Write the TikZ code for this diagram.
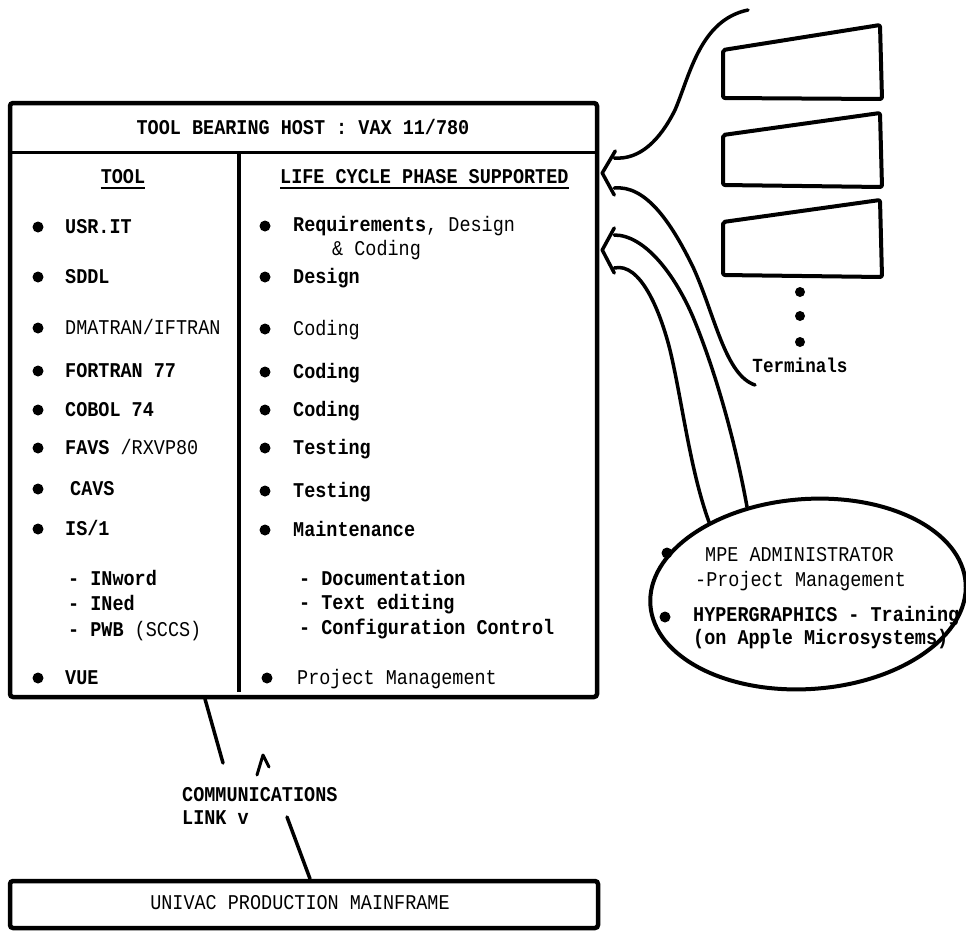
\documentclass[tikz,border=0pt]{standalone}
\usepackage{fontspec}
\newfontfamily\tw[FakeStretch=0.88]{Liberation Mono}
\usetikzlibrary{shapes.geometric}
\tikzset{
  txt/.style={font=\tw\fontsize{21}{25}\selectfont, inner sep=0pt, anchor=base west},
  ctxt/.style={txt, anchor=base},
  bul/.style={circle, fill=black, inner sep=0pt, minimum size=11pt},
  frame/.style={draw, line width=4.5pt, rounded corners=3pt, inner sep=0pt},
  rule/.style={line width=3pt},
  wire/.style={line width=3.5pt, line cap=round, line join=round},
  term/.style={line width=4pt, rounded corners=2pt, line join=round},
}
\begin{document}
\begin{tikzpicture}[x=1pt,y=-1pt]
\useasboundingbox (0,0) rectangle (966,930);
\fill[white] (0,0) rectangle (966,930);

% host box
\node[frame, minimum width=587pt, minimum height=594pt] (host) at (303.5,400) {};
\coordinate (hd) at (0,152);
\coordinate (cd) at (239,0);
\coordinate (cdb) at (239,692);
\draw[rule] (host.west |- hd) -- (host.east |- hd);
\draw[line width=3.5pt] (cd |- hd) -- (cdb);

\node[ctxt] (title) at (303,134) {\textbf{TOOL BEARING HOST : VAX 11/780}};
\node[ctxt] (toolh) at (123,183) {\textbf{TOOL}};
\node[txt] (lifeh) at (280,183) {\textbf{LIFE CYCLE PHASE SUPPORTED}};
\draw[line width=1.8pt] ([yshift=-5pt]toolh.base west) -- ([yshift=-5pt]toolh.base east);
\draw[line width=1.8pt] ([yshift=-5pt]lifeh.base west) -- ([yshift=-5pt]lifeh.base east);

% left column
\foreach \y [count=\i] in {227,277,328,371,410,448,489,529,678}
  \node[bul] (lb\i) at (38,\y) {};
\node[txt] (l1) at (65,233) {\textbf{USR.IT}};
\node[txt] (l2) at (65,283) {\textbf{SDDL}};
\node[txt] (l3) at (65,334) {DMATRAN/IFTRAN};
\node[txt] (l4) at (65,377) {\textbf{FORTRAN 77}};
\node[txt] (l5) at (65,416) {\textbf{COBOL 74}};
\node[txt] (l6) at (65,454) {\textbf{FAVS} /RXVP80};
\node[txt] (l7) at (70,495) {\textbf{CAVS}};
\node[txt] (l8) at (65,535) {\textbf{IS/1}};
\node[txt] (l9) at (68,585) {\textbf{-  INword}};
\node[txt] (l10) at (68,610) {\textbf{-  INed}};
\node[txt] (l11) at (68,636) {\textbf{-  PWB} (SCCS)};
\node[txt] (l12) at (65,684) {\textbf{VUE}};

% right column
\foreach \y [count=\i] in {226,277,329,372,410,448,491,530}
  \node[bul] (rb\i) at (265,\y) {};
\node[bul] (rb9) at (267,678) {};
\node[txt] (r1) at (293,231) {\textbf{Requirements}, Design};
\node[txt] (r1b) at (332,255) {\& Coding};
\node[txt] (r2) at (293,283) {\textbf{Design}};
\node[txt] (r3) at (293,335) {Coding};
\node[txt] (r4) at (293,378) {\textbf{Coding}};
\node[txt] (r5) at (293,416) {\textbf{Coding}};
\node[txt] (r6) at (293,454) {\textbf{Testing}};
\node[txt] (r7) at (293,497) {\textbf{Testing}};
\node[txt] (r8) at (293,536) {\textbf{Maintenance}};
\node[txt] (r9) at (299,585) {\textbf{- Documentation}};
\node[txt] (r10) at (299,609) {\textbf{- Text editing}};
\node[txt] (r11) at (299,634) {\textbf{- Configuration Control}};
\node[txt] (r12) at (297,684) {Project Management};

% terminals
\draw[term] (723,50) -- (880,25) -- (882,99) -- (723,98) -- cycle;
\draw[term] (723,135) -- (880,113) -- (882,187) -- (723,185) -- cycle;
\draw[term] (723,222) -- (880,200) -- (882,277) -- (723,275) -- cycle;
\node[bul, minimum size=10pt] (d1) at (800,292) {};
\node[bul, minimum size=10pt] (d2) at (800,316) {};
\node[bul, minimum size=10pt] (d3) at (800,342) {};
\node[ctxt, font=\tw\fontsize{20}{24}\selectfont] (term) at (800,372) {\textbf{Terminals}};

% ellipse
\node[draw, ellipse, line width=4pt, minimum width=316pt, minimum height=190pt, inner sep=0pt, rotate=4] (mpe) at (808,594) {};
\node[bul] (eb1) at (667,553) {};
\node[bul] (eb2) at (665,617) {};
\node[txt] (e1) at (705,561) {MPE ADMINISTRATOR};
\node[txt] (e2) at (695,586) {-Project Management};
\node[txt] (e3) at (693,621) {\textbf{HYPERGRAPHICS - Training}};
\node[txt] (e4) at (693,644) {\textbf{(on Apple Microsystems)}};

% arrows into host
\coordinate (y1) at (0,173);
\coordinate (y2) at (0,250);
\coordinate (tip1) at (host.east |- y1);
\coordinate (tip2) at (host.east |- y2);
\coordinate (tA) at (748,10);
\coordinate (tB) at (755,385);
\draw[wire] ([shift={(16,-22)}]tip1) -- ([xshift=3pt]tip1) -- ([shift={(15,22)}]tip1);
\draw[wire] ([shift={(15,-22)}]tip2) -- ([xshift=3pt]tip2) -- ([shift={(15,23)}]tip2);
\draw[wire] ([shift={(15,-15)}]tip1) .. controls (640,160) and (660,140) .. (675,110) .. controls (690,75) and (700,20) .. (tA);
\draw[wire] ([shift={(15,15)}]tip1) .. controls (645,185) and (670,220) .. (693,267) .. controls (715,315) and (725,375) .. (tB);
\draw[wire] ([shift={(15,-15)}]tip2) .. controls (645,235) and (675,275) .. (693,317) .. controls (715,370) and (735,440) .. (mpe.121);
\draw[wire] ([shift={(15,18)}]tip2) .. controls (640,262) and (660,310) .. (670,350) .. controls (682,400) and (690,470) .. (mpe.140);

% univac box
\node[frame, minimum width=588pt, minimum height=47pt] (univac) at (304,904.5) {};
\node[ctxt] (utext) at (300,909) {UNIVAC PRODUCTION MAINFRAME};

% communications link
\coordinate (l1a) at (205,699);
\coordinate (l1b) at (223,763);
\coordinate (l2a) at (287,817);
\coordinate (l2b) at (310,881);
\draw[wire] (l1a) -- (l1b);
\draw[wire] (l2a) -- (univac.north -| l2b);
\draw[wire, line width=3pt] (257,775) -- (263,755) -- (269,767);
\node[txt] (comm) at (182,801) {\textbf{COMMUNICATIONS}};
\node[txt] (link) at (182,824) {\textbf{LINK v}};
\end{tikzpicture}
\end{document}
